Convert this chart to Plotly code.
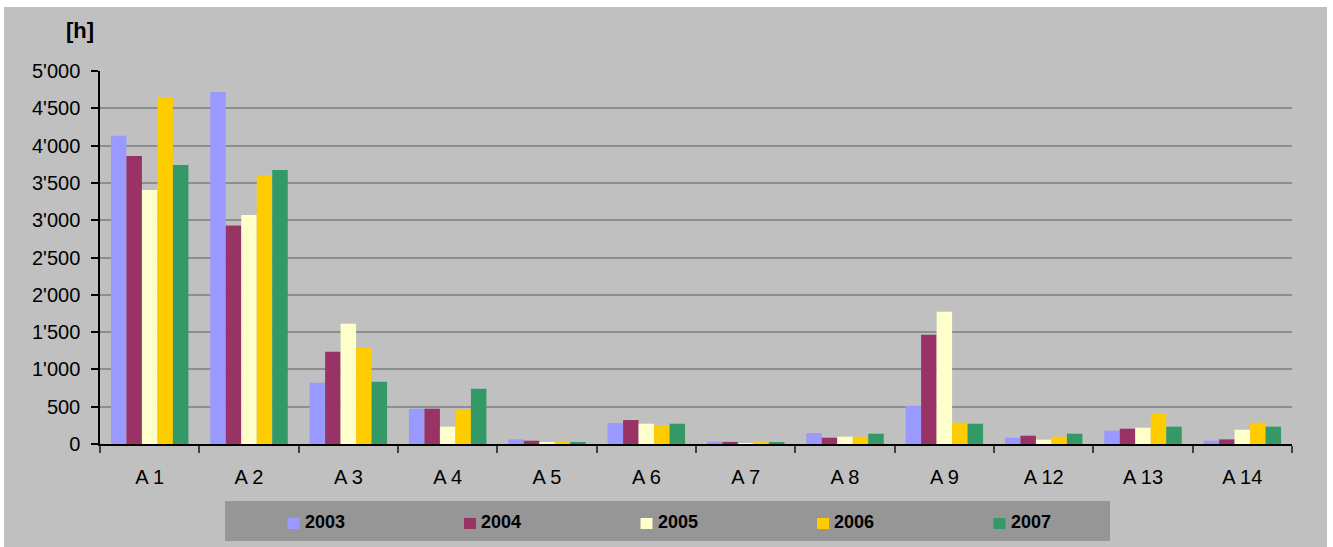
import plotly.graph_objects as go

# Operating hours per unit and year
units = ["A 1", "A 2", "A 3", "A 4", "A 5", "A 6", "A 7", "A 8", "A 9", "A 12", "A 13", "A 14"]
years = ["2003", "2004", "2005", "2006", "2007"]

hours_2003 = [4133, 4718, 821, 473, 62, 281, 31, 147, 513, 84, 178, 44]
hours_2004 = [3861, 2928, 1236, 473, 44, 321, 28, 84, 1464, 111, 205, 62]
hours_2005 = [3406, 3071, 1611, 232, 17, 272, 3, 98, 1772, 58, 218, 191]
hours_2006 = [4647, 3607, 1294, 459, 31, 249, 15, 98, 285, 98, 410, 285]
hours_2007 = [3741, 3674, 834, 741, 15, 272, 15, 138, 272, 138, 232, 232]

series = [hours_2003, hours_2004, hours_2005, hours_2006, hours_2007]
colors = ["#9999FF", "#993366", "#FFFFCC", "#FFCC00", "#339966"]

y_ticks = [0, 500, 1000, 1500, 2000, 2500, 3000, 3500, 4000, 4500, 5000]
y_tick_text = ["0", "500", "1'000", "1'500", "2'000", "2'500", "3'000",
               "3'500", "4'000", "4'500", "5'000"]

W, H = 1333, 547
ML, MR, MT, MB = 100, 41, 71, 103
PW, PH = W - ML - MR, H - MT - MB
FONT = "Liberation Sans, Arial, sans-serif"
BG = "#C0C0C0"


def px_x(x):
    return (x - ML) / PW


def px_y(y):
    return (H - MB - y) / PH


fig = go.Figure()
for name, vals, col in zip(years, series, colors):
    fig.add_trace(go.Bar(x=units, y=vals, name=name, marker_color=col,
                         marker_line_width=0, showlegend=False))

shapes = [
    # grey chart area
    dict(type="rect", xref="paper", yref="paper", layer="below",
         x0=px_x(4), x1=px_x(1327), y0=px_y(547), y1=px_y(7),
         fillcolor=BG, line_width=0),
    # legend box
    dict(type="rect", xref="paper", yref="paper",
         x0=px_x(225), x1=px_x(1110), y0=px_y(541), y1=px_y(501),
         fillcolor="#969696", line_width=0),
]
annotations = [
    dict(text="<b>[h]</b>", xref="paper", yref="paper", x=px_x(80), y=px_y(31),
         xanchor="center", yanchor="middle", showarrow=False,
         font=dict(family=FONT, size=22, color="black")),
]
for i, (name, col) in enumerate(zip(years, colors)):
    x0 = 287.5 + i * 176.5
    shapes.append(dict(type="rect", xref="paper", yref="paper",
                       x0=px_x(x0), x1=px_x(x0 + 12), y0=px_y(529), y1=px_y(518),
                       fillcolor=col, line_width=0))
    annotations.append(dict(text="<b>" + name + "</b>", xref="paper", yref="paper",
                            x=px_x(x0 + 15), y=px_y(522), xanchor="left",
                            yanchor="middle", showarrow=False,
                            font=dict(family=FONT, size=18, color="black")))

fig.update_layout(
    width=W, height=H,
    margin=dict(l=ML, r=MR, t=MT, b=MB, pad=0),
    paper_bgcolor="white",
    plot_bgcolor=BG,
    barmode="group",
    bargap=0.22,
    bargroupgap=0,
    font=dict(family=FONT, size=20, color="black"),
    shapes=shapes,
    annotations=annotations,
    xaxis=dict(
        type="category",
        showline=True, linecolor="black", linewidth=1.5,
        ticks="outside", tickson="boundaries", ticklen=7, tickwidth=1.5,
        tickcolor="#404040",
        showgrid=False, zeroline=False,
        tickfont=dict(family=FONT, size=20, color="black"),
        ticklabelstandoff=14,
    ),
    yaxis=dict(
        range=[0, 5000],
        tickvals=y_ticks, ticktext=y_tick_text,
        showline=True, linecolor="black", linewidth=1.5,
        ticks="outside", ticklen=7, tickwidth=1.5, tickcolor="black",
        showgrid=True, gridcolor="#8E8E8E", gridwidth=1.5,
        zeroline=False,
        tickfont=dict(family=FONT, size=20, color="black"),
        ticklabelstandoff=7,
    ),
)

fig.write_html("out.html")
